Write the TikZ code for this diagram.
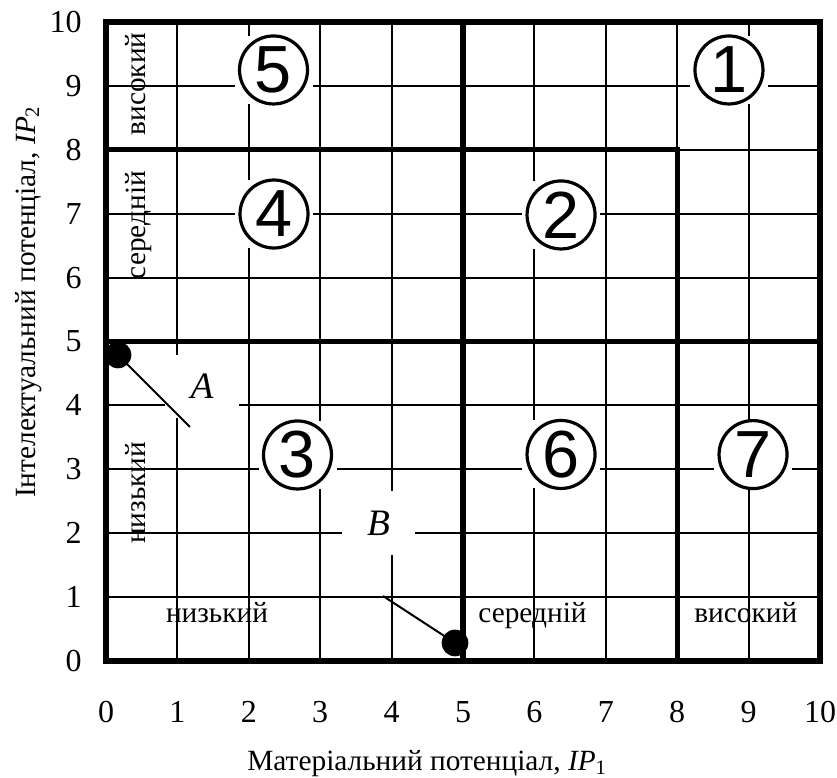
\documentclass[tikz,border=0pt]{standalone}
\usepackage{fontspec}
\setmainfont{Liberation Serif}
\newfontfamily\numfont{Liberation Sans}
\begin{document}
\begin{tikzpicture}[x=53.55pt,y=47.925pt,
  thingrid/.style={line width=1.5pt},
  thickgrid/.style={line width=3.9pt},
  cbox/.style={fill=white, minimum width=58.5pt, minimum height=51pt, inner sep=0pt},
  cnum/.style={circle, draw, line width=2.4pt, minimum size=51pt, inner sep=0pt, font=\numfont\fontsize{50}{50}\selectfont},
  lbox/.style={fill=white, minimum width=55pt, minimum height=47.5pt, inner sep=0pt, font=\fontsize{28}{28}\selectfont\itshape},
  ticklab/.style={font=\fontsize{24}{24}\selectfont, inner sep=0pt},
  axtitle/.style={font=\fontsize{22}{22}\selectfont, inner sep=0pt},
  region/.style={font=\fontsize{22}{22}\selectfont, inner sep=0pt},
  dotnode/.style={circle, fill=black, minimum size=20pt, inner sep=0pt},
  pointer/.style={line width=1.5pt}]

\useasboundingbox (-1.4846,-1.831) rectangle (10.238,10.344);

% grid
\foreach \k in {1,...,9} {
  \draw[thingrid] (\k,0) -- (\k,10);
  \draw[thingrid] (0,\k) -- (10,\k);
}
\draw[thickgrid] (0,5) -- (10,5);
\draw[thickgrid] (5,0) -- (5,10);
\draw[thickgrid] (0,8) -- (8,8) -- (8,0);
\draw[thickgrid] (0,0) rectangle (10,10);

% circled numbers
\foreach \n/\p in {5/{2.346,9.249}, 1/{8.725,9.249}, 4/{2.353,6.995}, 2/{6.373,6.98},
                   3/{2.682,3.224}, 6/{6.373,3.232}, 7/{9.062,3.23}} {
  \node[cbox] (b\n) at (\p) {};
  \node[cnum] (c\n) at (\p) {\n};
}

% labels A and B
\node[lbox] (labA) at (1.345,4.296) {A};
\node[lbox] (labB) at (3.817,2.16) {B};

% points and pointers
\node[dotnode] (pA) at (0.168,4.789) {};
\coordinate (endA) at (1.176,3.662);
\draw[pointer] (pA.center) -- (endA);
\node[dotnode] (pB) at (4.888,0.282) {};
\coordinate (endB) at (3.880,1.017);
\draw[pointer] (pB.center) -- (endB);

% region labels
\node[region, rotate=90, anchor=base] (rv1) at (0.56,9.03) {високий};
\node[region, rotate=90, anchor=base] (rv2) at (0.56,6.82) {середній};
\node[region, rotate=90, anchor=base] (rv3) at (0.56,2.63) {низький};
\node[region, anchor=base] (rh1) at (1.555,0.61) {низький};
\node[region, anchor=base] (rh2) at (5.973,0.61) {середній};
\node[region, anchor=base] (rh3) at (8.961,0.61) {високий};

% ticks
\foreach \i in {0,...,10} {
  \node[ticklab, anchor=base] (xt\i) at (\i,-0.97) {\i};
  \node[ticklab, anchor=east] (yt\i) at (-0.336,\i) {\i};
}

% axis titles
\node[axtitle, anchor=base] (xtitle) at (4.496,-1.71) {Матеріальний потенціал, \textit{IP}\textsubscript{1}};
\node[axtitle, rotate=90, anchor=base] (ytitle) at (-0.994,5.618) {Інтелектуальний потенціал, \textit{IP}\textsubscript{2}};
\end{tikzpicture}
\end{document}
